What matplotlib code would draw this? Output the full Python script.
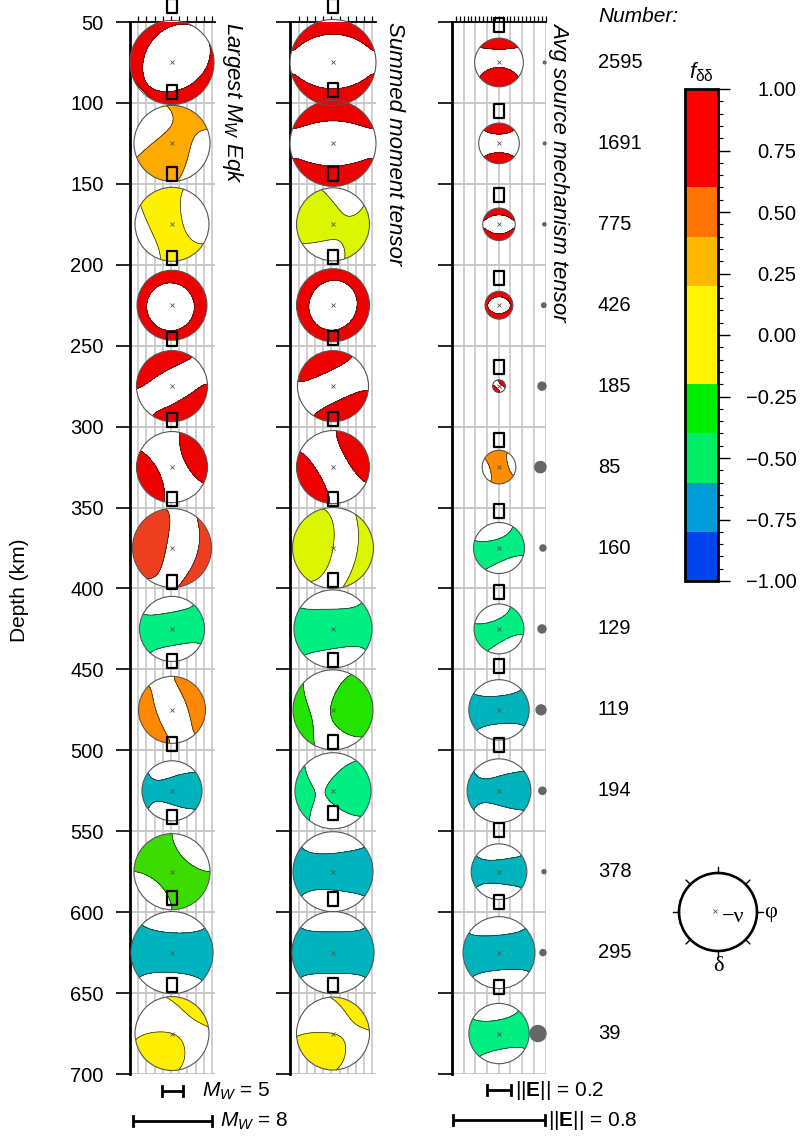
import numpy as np
import matplotlib as mpl
import matplotlib.pyplot as plt
from matplotlib.patches import Circle
from matplotlib.path import Path
from matplotlib.colors import ListedColormap, BoundaryNorm
from matplotlib.ticker import FixedLocator

plt.rcParams['font.family'] = ['Liberation Sans', 'DejaVu Sans']
plt.rcParams['mathtext.fontset'] = 'custom'
plt.rcParams['mathtext.rm'] = 'Liberation Sans'
plt.rcParams['mathtext.it'] = 'Liberation Sans:italic'
plt.rcParams['mathtext.bf'] = 'Liberation Sans:bold'

# ---------------- data ----------------
depth = np.arange(75, 700, 50)
number = [2595, 1691, 775, 426, 185, 85, 160, 129, 119, 194, 378, 295, 39]

# largest event in each bin
mw_big = [8.26, 7.85, 7.74, 7.53, 7.59, 7.59, 8.0, 7.28, 7.38, 7.02, 7.85, 8.16, 7.74]
sq_big = [40, 93, 144, 196, 246, 296, 345, 396, 445, 496, 541, 591, 645]
col_big = ['#EE0000', '#FFAA00', '#FFF000', '#EE0000', '#EE0000', '#EE0000', '#EE4020',
           '#00EE82', '#FF8800', '#00B4BE', '#3CDC00', '#00B4BE', '#FFEE00']
# (theta, a, b, c, mxz, myz): in-plane axis angle, eigenvalues, out-of-plane terms
mech_big = [(-45, 1.0, -0.1, -2.8, -0.5, -0.5),
            (60, 0.5, -0.8, 0.4, 0.0, -0.3),
            (110, 0.5, -0.8, 0.4, -0.3, 0.0),
            (0, 0.6, 0.6, -1.5, 0.15, 0.15),
            (120, 1.0, -0.25, -0.6, 0.0, 0.0),
            (25, 1.0, -0.6, -0.4, 0.0, 0.0),
            (165, 1.0, -0.2, -0.3, -0.6, 0.1),
            (10, 0.6, -1.0, 0.8, 0.0, 0.0),
            (20, 1.0, -0.2, -0.6, 0.0, 0.0),
            (0, 0.6, -1.0, 0.6, 0.35, 0.0),
            (135, 0.8, -0.8, 0.5, 0.0, 0.0),
            (-3, 0.7, -1.0, 0.7, 0.0, 0.0),
            (55, 0.6, -0.6, 0.0, -0.15, -0.45)]

# summed moment tensor
mw_sum = [8.36, 8.36, 7.69, 7.69, 7.59, 7.69, 8.1, 7.95, 8.05, 7.85, 8.05, 8.16, 7.69]
sq_sum = [40, 92, 144, 195, 245, 295, 345, 395, 444, 495, 539, 592, 645]
col_sum = ['#EE0000', '#EE0000', '#DCF500', '#EE0000', '#EE0000', '#EE0000', '#DCF500',
           '#00EE82', '#22E400', '#00EE82', '#00B4BE', '#00B4BE', '#FFEE00']
mech_sum = [(90, 1.0, -0.08, -1.8, 0.0, -0.1),
            (90, 1.0, -0.15, -0.9, 0.0, 0.0),
            (160, 0.8, -0.5, 0.3, -0.3, 0.1),
            (-30, 0.75, 0.55, -1.5, 0.0, 0.0),
            (115, 1.0, -0.4, -0.5, 0.0, 0.0),
            (30, 1.0, -0.5, -0.5, 0.0, 0.0),
            (170, 1.0, -0.2, 0.0, -0.6, 0.1),
            (5, 0.6, -1.0, 0.8, -0.1, 0.0),
            (10, 1.0, -0.6, 0.1, 0.6, 0.0),
            (5, 0.8, -0.7, 0.2, 0.45, 0.0),
            (0, 0.6, -1.0, 0.6, 0.1, 0.0),
            (0, 0.6, -1.0, 0.8, 0.0, 0.0),
            (50, 0.6, -0.6, 0.0, -0.1, -0.45)]

# average source mechanism tensor
e_avg = [0.42, 0.35, 0.28, 0.24, 0.11, 0.29, 0.44, 0.43, 0.52, 0.55, 0.48, 0.62, 0.52]
sq_avg = [52, 105, 157, 208, 263, 308, 352, 402, 448, 497, 549, 594, 646]
dev_avg = [0.17, 0.17, 0.2, 0.28, 0.5, 0.7, 0.38, 0.5, 0.62, 0.45, 0.25, 0.38, 1.0]
col_avg = ['#EE0000', '#EE0000', '#EE0000', '#EE0000', '#EE0000', '#FF8C00', '#00EE82',
           '#00EE82', '#00B4BE', '#00B4BE', '#00B4BE', '#00B4BE', '#00EE82']
mech_avg = [(90, 1.0, -0.6, -0.3, 0.0, -0.35),
            (90, 1.0, -0.8, -0.6, 0.0, 0.0),
            (90, 1.0, -0.05, -1.3, 0.0, 0.0),
            (90, 1.0, 0.2, -1.5, 0.0, 0.0),
            (45, 1.0, -0.5, -0.5, 0.0, 0.0),
            (105, 0.6, -0.6, 0.6, 0.0, 0.0),
            (20, 0.6, -1.0, 0.5, 0.0, -0.2),
            (25, 0.6, -1.0, 0.5, 0.0, -0.15),
            (5, 0.6, -1.0, 0.6, 0.0, 0.0),
            (0, 0.6, -1.0, 0.6, 0.3, 0.0),
            (0, 0.5, -1.0, 0.5, 0.1, 0.0),
            (5, 0.6, -1.0, 0.7, 0.0, 0.0),
            (10, 0.7, -1.0, 0.7, 0.0, -0.1)]

band_edges = [-1.0, -0.8, -0.6, -0.4, -0.2, 0.2, 0.4, 0.6, 1.0]
band_colors = ['#0044EE', '#009BDA', '#00EE66', '#00EE00', '#FFF500', '#FFB700', '#FF7300', '#FF0000']

# ---------------- layout helpers ----------------
W, H = 804, 1138
TOP, BOT = 22, 1074
S = (BOT - TOP) / 650.0          # px per km


def mw_px(m):
    # Mw 5 -> 21 px, Mw 8 -> 79 px
    return 21 + (m - 5) * (79 - 21) / 3.0


def e_px(e):
    return e * 116.0


def z_of(py):
    return 50 + (py - TOP) / S


fig = plt.figure(figsize=(W / 100, H / 100), dpi=100)

gx = np.linspace(-1.03, 1.03, 261)
GX, GY = np.meshgrid(gx, gx)
RR = np.clip(np.hypot(GX, GY), 1e-9, 1.41)
INC = 2 * np.arcsin(RR / np.sqrt(2))
NV = np.stack([np.sin(INC) * GX / RR, np.sin(INC) * GY / RR, np.cos(INC)])


def tensor(theta, a, b, c, mxz, myz):
    t = np.radians(theta)
    u = np.array([np.cos(t), np.sin(t)])
    v = np.array([-np.sin(t), np.cos(t)])
    m = np.zeros((3, 3))
    m[:2, :2] = a * np.outer(u, u) + b * np.outer(v, v)
    m[2, 2] = c
    m[0, 2] = m[2, 0] = mxz
    m[1, 2] = m[2, 1] = myz
    return m


def ball(ax, z, rad, mech, color):
    m = tensor(*mech)
    amp = np.einsum('i...,ij,j...->...', NV, m, NV)
    X = rad * GX
    Y = z - rad * GY
    circ = Circle((0, z), rad, facecolor='white', edgecolor='none', zorder=3, clip_on=False)
    ax.add_patch(circ)
    cs = ax.contourf(X, Y, amp, levels=[0, np.abs(amp).max() * 2 + 1], colors=[color], zorder=3.2)
    cs.set_clip_path(circ)
    cl = ax.contour(X, Y, amp, levels=[0], colors='#222222', linewidths=0.5, zorder=3.3)
    cl.set_clip_path(circ)
    ax.add_patch(Circle((0, z), rad, fill=False, edgecolor='#555555', lw=0.8, zorder=3.4, clip_on=False))
    ax.plot(0, z, marker='x', ms=3.5, mew=0.6, color='#555555', zorder=3.5, clip_on=False)


rect = Path([(-0.38, -0.5), (0.38, -0.5), (0.38, 0.5), (-0.38, 0.5), (-0.38, -0.5)],
            [Path.MOVETO, Path.LINETO, Path.LINETO, Path.LINETO, Path.CLOSEPOLY])


def column(x0, x1, xc, grid_step, tick_step, labels):
    ax = fig.add_axes([x0 / W, 1 - BOT / H, (x1 - x0) / W, (BOT - TOP) / H])
    for p in np.arange(x0 + grid_step, x1 + 0.5, grid_step):
        ax.axvline((p - xc) / S, color='#c4c4c4', lw=1.1, zorder=1)
    for d in range(100, 701, 50):
        ax.axhline(d, color='#c4c4c4', lw=1.3, zorder=1)
    ax.set_xlim((x0 - xc) / S, (x1 - xc) / S)
    ax.set_ylim(700, 50)
    ax.xaxis.set_ticks_position('top')
    ax.set_xticks([(p - xc) / S for p in np.arange(x0 + tick_step, x1 + 0.5, tick_step)])
    ax.tick_params(axis='x', direction='out', length=4, width=0.9, labeltop=False, labelbottom=False)
    ax.set_yticks(range(50, 701, 50))
    ax.tick_params(axis='y', direction='out', length=10, width=1.2, labelsize=14.5, pad=9,
                   labelleft=labels)
    ax.spines['right'].set_visible(False)
    ax.spines['bottom'].set_visible(False)
    ax.spines['left'].set_linewidth(2.0)
    ax.spines['top'].set_linewidth(1.3)
    ax.set_facecolor('none')
    return ax


def squares(ax, zs):
    ax.plot(np.zeros(len(zs)), zs, ls='none', marker=rect, ms=9.5, mfc='none', mec='black',
            mew=1.6, zorder=5, clip_on=False)


def scale_bar(ax, py, length_px):
    z = z_of(py)
    h = 5 / S
    L = length_px / S / 2
    ax.plot([-L, L], [z, z], color='black', lw=2.0, clip_on=False, solid_capstyle='butt')
    ax.plot([-L, -L], [z - h, z + h], color='black', lw=2.0, clip_on=False)
    ax.plot([L, L], [z - h, z + h], color='black', lw=2.0, clip_on=False)


# column 1: largest event
ax1 = column(130, 215, 172, 8.2, 8.2, True)
for z, m, mech, c in zip(depth, mw_big, mech_big, col_big):
    ball(ax1, z, mw_px(m) / 2 / S, mech, c)
squares(ax1, sq_big)
scale_bar(ax1, 1091, mw_px(5))
scale_bar(ax1, 1121, mw_px(8))

# column 2: summed moment tensor
ax2 = column(290.5, 376, 333, 8.2, 8.2, False)
for z, m, mech, c in zip(depth, mw_sum, mech_sum, col_sum):
    ball(ax2, z, mw_px(m) / 2 / S, mech, c)
squares(ax2, sq_sum)

# column 3: average mechanism
ax3 = column(452, 546, 499, 11.7, 3.9, False)
for z, e, mech, c in zip(depth, e_avg, mech_avg, col_avg):
    ball(ax3, z, e_px(e) / 2 / S, mech, c)
squares(ax3, sq_avg)
for z, d in zip(depth, dev_avg):
    r = 8 * d
    ax3.add_patch(Circle(((546 - r - 499) / S, z), r / S, color='#666666', zorder=4, clip_on=False))
scale_bar(ax3, 1090, e_px(0.2))
scale_bar(ax3, 1120, e_px(0.8))

# labels
fig.text(20 / W, 1 - 590 / H, 'Depth (km)', rotation=90, ha='center', va='center', fontsize=15)
fig.text(232 / W, 1 - 22 / H, 'Largest $M_W$ Eqk', rotation=-90, ha='center', va='top',
         fontsize=16, style='italic')
fig.text(395 / W, 1 - 22 / H, 'Summed moment tensor', rotation=-90, ha='center', va='top',
         fontsize=16, style='italic')
fig.text(560 / W, 1 - 22 / H, 'Avg source mechanism tensor', rotation=-90, ha='center', va='top',
         fontsize=16, style='italic')
fig.text(598 / W, 1 - 16 / H, 'Number:', ha='left', va='center', fontsize=15, style='italic')
for z, n in zip(depth, number):
    fig.text(598 / W, 1 - (TOP + (z - 50) * S) / H, str(n), ha='left', va='center', fontsize=14.5)

fig.text(202 / W, 1 - 1091 / H, '$M_W$ = 5', ha='left', va='center', fontsize=15)
fig.text(220 / W, 1 - 1121 / H, '$M_W$ = 8', ha='left', va='center', fontsize=15)
fig.text(515 / W, 1 - 1090 / H, r'$||\mathbf{E}||$ = 0.2', ha='left', va='center', fontsize=15)
fig.text(548 / W, 1 - 1120 / H, r'$||\mathbf{E}||$ = 0.8', ha='left', va='center', fontsize=15)

# colour bar
cax = fig.add_axes([685 / W, 1 - 581 / H, 33 / W, 492 / H])
cmap = ListedColormap(band_colors)
norm = BoundaryNorm(band_edges, cmap.N)
cb = fig.colorbar(mpl.cm.ScalarMappable(norm=norm, cmap=cmap), cax=cax, spacing='proportional',
                  ticks=np.arange(-1, 1.01, 0.25))
cb.outline.set_linewidth(2.0)
cax.yaxis.set_minor_locator(FixedLocator(np.arange(-1, 1.001, 0.05)))
cax.tick_params(which='major', length=8.5, width=1.0, labelsize=14.5, pad=48)
cax.tick_params(which='minor', length=3.5, width=0.8)
cax.set_yticklabels([f'{v:.2f}'.replace('-', '\u2212') for v in np.arange(-1, 1.01, 0.25)])
for lab in cax.get_yticklabels():
    lab.set_ha('right')
fig.text(701 / W, 1 - 72 / H, r'$f_{\mathrm{\delta\delta}}$', ha='center', va='center', fontsize=16)

# orientation key
lax = fig.add_axes([668 / W, 1 - 962 / H, 100 / W, 100 / H])
lax.set_xlim(-50, 50)
lax.set_ylim(-50, 50)
lax.axis('off')
lax.add_patch(Circle((0, 0), 39, fill=False, lw=1.9, edgecolor='black'))
for ang in np.radians(np.arange(0, 360, 45)):
    lax.plot([39 * np.cos(ang), 45 * np.cos(ang)], [39 * np.sin(ang), 45 * np.sin(ang)],
             color='black', lw=1.0, clip_on=False)
lax.plot(-3, 1, marker='x', ms=3.5, mew=0.6, color='#555555')
serif = ['Liberation Serif', 'DejaVu Serif']
lax.text(4, -6, '\u2212\u03bd', ha='left', va='center', fontsize=16, family=serif)
lax.text(46, -1, '\u03c6', ha='left', va='center', fontsize=16, family=serif)
lax.text(0, -45, '\u03b4', ha='center', va='top', fontsize=16, family=serif)

fig.savefig('out.png', dpi=100)
